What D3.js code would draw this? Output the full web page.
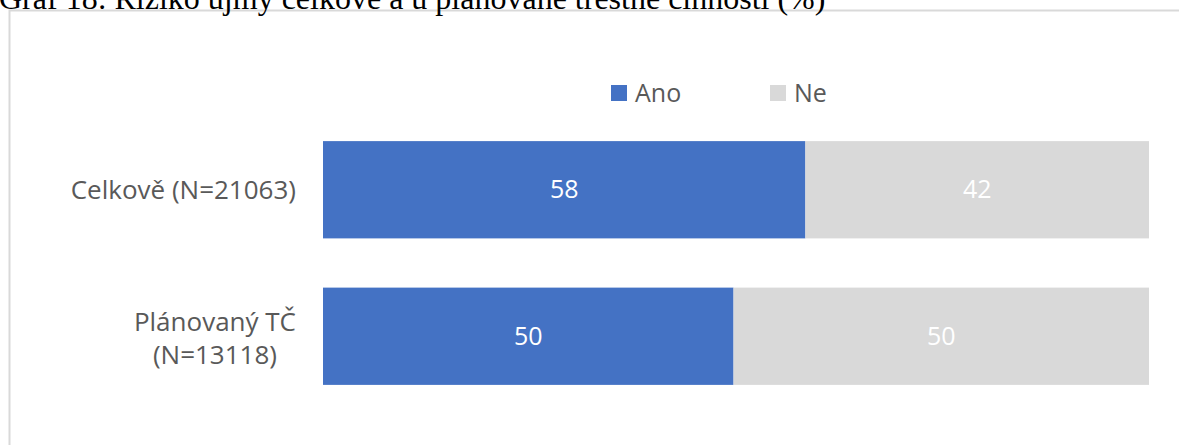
<!DOCTYPE html>
<html>
<head>
<meta charset="utf-8">
<script src="https://cdn.jsdelivr.net/npm/d3@7"></script>
<style>
html,body{margin:0;padding:0;background:#fff;overflow:hidden;}
svg{display:block;}
</style>
</head>
<body>
<svg id="chart" width="1179" height="445"></svg>
<script>
const titleText = "Graf 18: Riziko újmy celkově a u plánované trestné činnosti (%)";
const categories = [["Celkově (N=21063)"], ["Plánovaný TČ", "(N=13118)"]];
const seriesNames = ["Ano", "Ne"];
const seriesColors = ["#4472C4", "#D9D9D9"];
const anoValues = [58.4, 49.7];
const neValues = [41.6, 50.3];
const anoLabels = ["58", "50"];
const neLabels = ["42", "50"];

const svg = d3.select("#chart");
const font = "'Open Sans', 'Noto Sans', sans-serif";
const textColor = "#595959";

// chart frame
svg.append("rect").attr("x", 9.5).attr("y", 10.5).attr("width", 1200).attr("height", 500)
  .attr("fill", "#fff").attr("stroke", "#d9d9d9").attr("stroke-width", 2);

// title (cut at top, as in the reference)
svg.append("text").attr("x", -1).attr("y", 9)
  .attr("font-family", "'Liberation Serif', 'Times New Roman', serif")
  .attr("font-size", 32).attr("fill", "#000").text(titleText);

const x = d3.scaleLinear().domain([0, 100]).range([323, 1149]);
const y = d3.scaleBand().domain(d3.range(categories.length)).range([116.5, 409.5])
  .paddingInner(0.336).paddingOuter(0.168);

const rows = categories.map((c, i) => ({
  cat: c,
  segs: [
    {s: 0, x0: 0, x1: anoValues[i], label: anoLabels[i]},
    {s: 1, x0: anoValues[i], x1: anoValues[i] + neValues[i], label: neLabels[i]}
  ]
}));

const g = svg.selectAll("g.row").data(rows).join("g").attr("class", "row")
  .attr("transform", (d, i) => `translate(0,${y(i)})`);

g.selectAll("rect").data(d => d.segs).join("rect")
  .attr("x", d => x(d.x0)).attr("width", d => x(d.x1) - x(d.x0))
  .attr("y", 0).attr("height", y.bandwidth())
  .attr("fill", d => seriesColors[d.s]);

g.selectAll("text.val").data(d => d.segs).join("text").attr("class", "val")
  .attr("x", d => (x(d.x0) + x(d.x1)) / 2).attr("y", y.bandwidth() / 2)
  .attr("dy", "0.35em").attr("text-anchor", "middle")
  .attr("font-family", font).attr("font-size", 25).attr("fill", "#fff")
  .text(d => d.label);

// category labels
const catSize = 26;
const catG = svg.selectAll("text.cat").data(categories).join("text").attr("class", "cat")
  .attr("font-family", font).attr("font-size", catSize).attr("fill", textColor);
catG.each(function(d, i) {
  const t = d3.select(this);
  const cy = y(i) + y.bandwidth() / 2;
  const lh = 33;
  const n = d.length;
  if (n === 1) {
    t.attr("text-anchor", "end").append("tspan").attr("x", 296).attr("y", cy).attr("dy", "0.35em").text(d[0]);
  } else {
    const tmp = svg.append("text").attr("font-family", font).attr("font-size", catSize);
    const widths = d.map(s => { tmp.text(s); return tmp.node().getComputedTextLength(); });
    tmp.remove();
    const maxW = d3.max(widths);
    const cx = 296 - maxW / 2;
    t.attr("text-anchor", "middle");
    d.forEach((s, k) => {
      t.append("tspan").attr("x", cx).attr("y", cy + 2 + (k - (n - 1) / 2) * lh).attr("dy", "0.35em").text(s);
    });
  }
});

// legend
const legX = [611, 770];
const leg = svg.selectAll("g.leg").data(seriesNames).join("g").attr("class", "leg")
  .attr("transform", (d, i) => `translate(${legX[i]},93)`);
leg.append("rect").attr("x", 0).attr("y", -8).attr("width", 16).attr("height", 16)
  .attr("fill", (d, i) => seriesColors[i]);
leg.append("text").attr("x", 24).attr("y", 0).attr("dy", "0.35em")
  .attr("font-family", font).attr("font-size", 25).attr("fill", textColor).text(d => d);
</script>
</body>
</html>
